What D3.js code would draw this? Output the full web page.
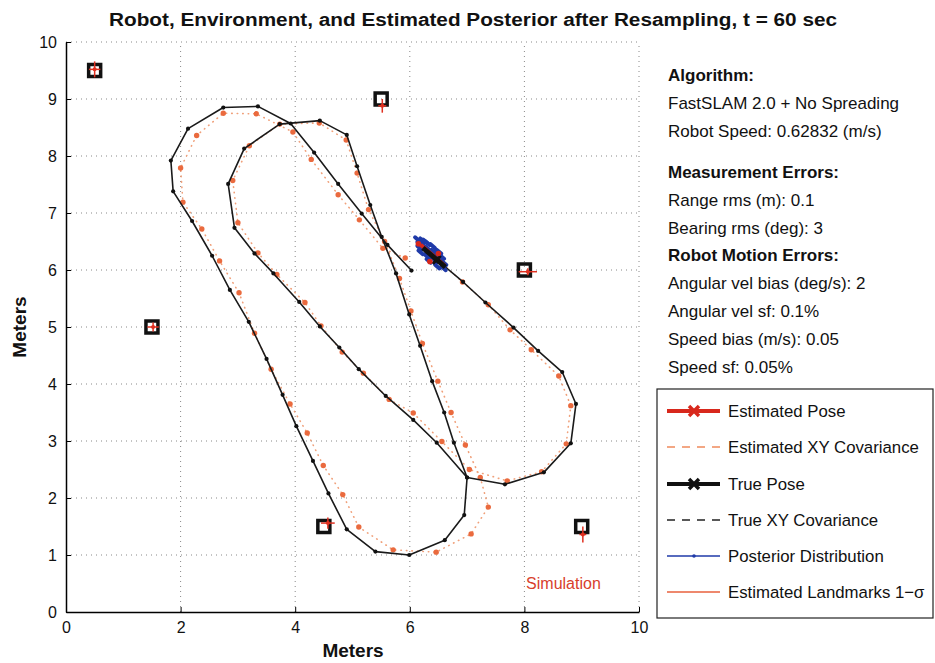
<!DOCTYPE html>
<html>
<head>
<meta charset="utf-8">
<script src="https://cdn.jsdelivr.net/npm/d3@7"></script>
<style>
  body { margin: 0; background: #fff; }
  svg { display: block; font-family: 'Liberation Sans', Arial, sans-serif; }
</style>
</head>
<body>
<script>
// true robot path (m), in driving order
const trueX = [6.03, 5.61, 5.16, 4.75, 4.33, 3.92, 3.35, 2.745, 2.13, 1.83, 1.87, 2.2, 2.55, 2.86, 3.19, 3.5, 3.78, 4.02, 4.31, 4.58, 4.9, 5.4, 5.99, 6.61, 6.95, 7.0,
  6.77, 6.6, 6.39, 6.18, 5.99, 5.76, 5.51, 5.31, 5.08, 4.9, 4.43, 3.73, 3.11, 2.83, 2.94, 3.29, 3.62, 4.07, 4.43, 4.77, 5.11, 5.58, 6.06, 6.47, 7.0,
  7.66, 8.34, 8.81, 8.9, 8.66, 8.24, 7.81, 7.32, 6.93, 6.47];
const trueY = [5.99, 6.44, 6.99, 7.51, 8.06, 8.57, 8.87, 8.85, 8.48, 7.92, 7.38, 6.86, 6.25, 5.65, 5.09, 4.44, 3.81, 3.26, 2.65, 2.08, 1.45, 1.06, 1.0, 1.26, 1.7, 2.36,
  2.97, 3.5, 4.05, 4.67, 5.22, 5.94, 6.58, 7.14, 7.82, 8.37, 8.62, 8.56, 8.13, 7.51, 6.74, 6.29, 5.94, 5.44, 5.01, 4.64, 4.26, 3.79, 3.37, 2.97, 2.36,
  2.24, 2.45, 2.96, 3.65, 4.21, 4.58, 4.99, 5.43, 5.79, 6.18];

// estimated robot path (m)
const estX = [5.92, 5.53, 5.12, 4.75, 4.28, 3.96, 3.32, 2.745, 2.28, 2.0, 2.04, 2.37, 2.68, 3.02, 3.29, 3.58, 3.91, 4.21, 4.49, 4.83, 5.11, 5.71, 6.46, 7.07, 7.37, 7.23,
  6.97, 6.72, 6.49, 6.22, 6.02, 5.82, 5.56, 5.28, 5.08, 4.89, 4.42, 3.73, 3.2, 2.91, 3.0, 3.35, 3.68, 4.17, 4.45, 4.82, 5.19, 5.64, 6.06, 6.56, 7.04,
  7.7, 8.3, 8.73, 8.81, 8.6, 8.12, 7.75, 7.37, 6.92, 6.42];
const estY = [6.21, 6.38, 6.88, 7.32, 7.94, 8.42, 8.74, 8.75, 8.36, 7.79, 7.19, 6.72, 6.16, 5.6, 4.89, 4.26, 3.65, 3.14, 2.57, 2.06, 1.49, 1.09, 1.05, 1.37, 1.84, 2.36,
  2.93, 3.5, 4.05, 4.71, 5.28, 5.85, 6.5, 7.06, 7.7, 8.28, 8.58, 8.56, 8.18, 7.57, 6.83, 6.3, 5.92, 5.43, 5.02, 4.56, 4.19, 3.73, 3.49, 2.99, 2.5,
  2.3, 2.46, 2.95, 3.62, 4.14, 4.6, 4.95, 5.39, 5.79, 6.24];

// landmarks: true and estimated with 1-sigma
const landmarkX = [0.5, 5.5, 8.0, 1.5, 4.5, 9.0];
const landmarkY = [9.5, 9.0, 6.0, 5.0, 1.5, 1.5];
const estLmX = [0.5, 5.52, 8.06, 1.52, 4.57, 9.02];
const estLmY = [9.52, 8.88, 5.97, 5.0, 1.56, 1.36];
const estLmSx = [0.1, 0.07, 0.16, 0.1, 0.12, 0.06];
const estLmSy = [0.14, 0.12, 0.06, 0.08, 0.1, 0.14];

// particle cloud (posterior) around the robot
const particleX = [6.17, 6.22, 6.17, 6.31, 6.19, 6.32, 6.4, 6.3, 6.42, 6.33, 6.51, 6.44, 6.56, 6.48, 6.6, 6.59, 6.24, 6.32, 6.39, 6.5, 6.13, 6.27];
const particleY = [6.46, 6.52, 6.39, 6.47, 6.31, 6.37, 6.42, 6.24, 6.32, 6.16, 6.32, 6.17, 6.23, 6.06, 6.12, 6.03, 6.43, 6.3, 6.27, 6.2, 6.54, 6.5];
const heading = 139; // deg

const truePose = [6.47, 6.18];
const estPose = [6.4, 6.26];
const estPoseDots = [[6.15, 6.46], [6.5, 6.29], [6.35, 6.15]];

const xTicks = [0, 2, 4, 6, 8, 10];
const yTicks = [0, 1, 2, 3, 4, 5, 6, 7, 8, 9, 10];

const title = 'Robot, Environment, and Estimated Posterior after Resampling, t = 60 sec';
const infoLines = [
  ['Algorithm:', true],
  ['FastSLAM 2.0 + No Spreading', false],
  ['Robot Speed: 0.62832 (m/s)', false],
  ['Measurement Errors:', true],
  ['Range rms (m): 0.1', false],
  ['Bearing rms (deg): 3', false],
  ['Robot Motion Errors:', true],
  ['Angular vel bias (deg/s): 2', false],
  ['Angular vel sf: 0.1%', false],
  ['Speed bias (m/s): 0.05', false],
  ['Speed sf: 0.05%', false]
];
const infoY = [75, 103, 131, 172, 200, 228, 255, 283, 311, 339, 367];
const legendLabels = ['Estimated Pose', 'Estimated XY Covariance', 'True Pose', 'True XY Covariance', 'Posterior Distribution', 'Estimated Landmarks 1\u2212\u03c3'];

const red = '#d8281c';
const orange = '#ea6a3e';
const blue = '#1f3aa8';
const width = 935;
const height = 663;

const svg = d3
  .select('body')
  .append('svg')
  .attr('width', width)
  .attr('height', height);

const x = d3.scaleLinear().domain([0, 10]).range([66, 639]);
const y = d3.scaleLinear().domain([0, 10]).range([612, 42]);

// grid
const grid = svg.append('g').attr('stroke', '#888').attr('stroke-dasharray', '1,4').attr('stroke-width', 1);
grid
  .selectAll('.gx')
  .data(xTicks.slice(1))
  .enter()
  .append('line')
  .attr('x1', d => x(d))
  .attr('x2', d => x(d))
  .attr('y1', y(0))
  .attr('y2', y(10));
grid
  .selectAll('.gy')
  .data(yTicks.slice(1))
  .enter()
  .append('line')
  .attr('y1', d => y(d))
  .attr('y2', d => y(d))
  .attr('x1', x(0))
  .attr('x2', x(10));

// axes (matlab style, ticks inward)
const xAxis = d3.axisBottom(x).tickValues(xTicks).tickSize(-5).tickPadding(10).tickSizeOuter(0);
const yAxis = d3.axisLeft(y).tickValues(yTicks).tickSize(-5).tickPadding(9).tickSizeOuter(0);

svg
  .append('g')
  .attr('transform', `translate(0, ${y(0)})`)
  .call(xAxis)
  .call(g => g.selectAll('text').attr('font-size', 16).attr('fill', '#111').attr('font-family', 'Liberation Sans, Arial'))
  .call(g => g.select('.domain').attr('stroke-width', 1.5));

svg
  .append('g')
  .attr('transform', `translate(${x(0)}, 0)`)
  .call(yAxis)
  .call(g => g.selectAll('text').attr('font-size', 16).attr('fill', '#111').attr('font-family', 'Liberation Sans, Arial'))
  .call(g => g.select('.domain').attr('stroke-width', 1.5));

// estimated path: faint dotted line + markers
const line = d3.line().x(d => x(d[0])).y(d => y(d[1]));
const estPts = estX.map((v, i) => [v, estY[i]]);
const truePts = trueX.map((v, i) => [v, trueY[i]]);

svg
  .append('path')
  .attr('d', line(estPts))
  .attr('fill', 'none')
  .attr('stroke', '#f0a07a')
  .attr('stroke-width', 1.6)
  .attr('stroke-linecap', 'round')
  .attr('stroke-dasharray', '0.5,5');

svg
  .selectAll('.est')
  .data(estPts)
  .enter()
  .append('circle')
  .attr('cx', d => x(d[0]))
  .attr('cy', d => y(d[1]))
  .attr('r', 2.7)
  .attr('fill', orange);

// true path
svg
  .append('path')
  .attr('d', line(truePts))
  .attr('fill', 'none')
  .attr('stroke', '#1a1a1a')
  .attr('stroke-width', 1.6)
  .attr('stroke-linejoin', 'round');

svg
  .selectAll('.tru')
  .data(truePts)
  .enter()
  .append('circle')
  .attr('cx', d => x(d[0]))
  .attr('cy', d => y(d[1]))
  .attr('r', 2.1)
  .attr('fill', '#111');

// landmarks
svg
  .selectAll('.lm')
  .data(landmarkX)
  .enter()
  .append('rect')
  .attr('x', d => x(d) - 6)
  .attr('y', (d, i) => y(landmarkY[i]) - 6)
  .attr('width', 12)
  .attr('height', 12)
  .attr('fill', 'none')
  .attr('stroke', '#111')
  .attr('stroke-width', 3.5);

const lmEst = svg.append('g').attr('stroke', '#e03020').attr('stroke-width', 1.5);
estLmX.forEach((v, i) => {
  lmEst
    .append('line')
    .attr('x1', x(v - estLmSx[i]))
    .attr('x2', x(v + estLmSx[i]))
    .attr('y1', y(estLmY[i]))
    .attr('y2', y(estLmY[i]));
  lmEst
    .append('line')
    .attr('x1', x(v))
    .attr('x2', x(v))
    .attr('y1', y(estLmY[i] - estLmSy[i]))
    .attr('y2', y(estLmY[i] + estLmSy[i]));
});
svg
  .selectAll('.lmc')
  .data(estLmX)
  .enter()
  .append('circle')
  .attr('cx', d => x(d))
  .attr('cy', (d, i) => y(estLmY[i]))
  .attr('r', 2)
  .attr('fill', '#e03020');

// posterior particles
const hx = Math.cos((heading * Math.PI) / 180);
const hy = Math.sin((heading * Math.PI) / 180);
const cloud = svg.append('g');
particleX.forEach((v, i) => {
  cloud
    .append('line')
    .attr('x1', x(v - hx * 0.05))
    .attr('y1', y(particleY[i] - hy * 0.05))
    .attr('x2', x(v + hx * 0.05))
    .attr('y2', y(particleY[i] + hy * 0.05))
    .attr('stroke', blue)
    .attr('stroke-width', 4)
    .attr('stroke-linecap', 'round');
});

// estimated pose (red) and true pose (black)
const poseLen = 0.28;
svg
  .append('line')
  .attr('x1', x(estPose[0] - hx * poseLen))
  .attr('y1', y(estPose[1] - hy * poseLen))
  .attr('x2', x(estPose[0] + hx * poseLen))
  .attr('y2', y(estPose[1] + hy * poseLen))
  .attr('stroke', red)
  .attr('stroke-width', 4);

svg
  .append('line')
  .attr('x1', x(truePose[0] - hx * 0.2))
  .attr('y1', y(truePose[1] - hy * 0.2))
  .attr('x2', x(truePose[0] + hx * 0.32))
  .attr('y2', y(truePose[1] + hy * 0.32))
  .attr('stroke', '#111')
  .attr('stroke-width', 5);

svg
  .append('path')
  .attr('d', 'M-4,-4L4,4M-4,4L4,-4')
  .attr('transform', `translate(${x(truePose[0])}, ${y(truePose[1])})`)
  .attr('stroke', '#111')
  .attr('stroke-width', 3);
svg
  .selectAll('.epd')
  .data(estPoseDots)
  .enter()
  .append('circle')
  .attr('cx', d => x(d[0]))
  .attr('cy', d => y(d[1]))
  .attr('r', 2.8)
  .attr('fill', red);

// "Simulation" label
svg
  .append('text')
  .attr('x', x(8.03))
  .attr('y', y(0.4))
  .attr('font-size', 16)
  .attr('fill', '#d8402c')
  .text('Simulation');

// title + axis labels
svg
  .append('text')
  .attr('x', 473)
  .attr('y', 26)
  .attr('text-anchor', 'middle')
  .attr('font-size', 18)
  .attr('font-weight', 'bold')
  .attr('textLength', 728)
  .attr('lengthAdjust', 'spacingAndGlyphs')
  .attr('fill', '#111')
  .text(title);

svg
  .append('text')
  .attr('x', 353)
  .attr('y', 657)
  .attr('text-anchor', 'middle')
  .attr('font-size', 19)
  .attr('font-weight', 'bold')
  .attr('fill', '#111')
  .text('Meters');

svg
  .append('text')
  .attr('transform', 'translate(26, 327) rotate(-90)')
  .attr('text-anchor', 'middle')
  .attr('font-size', 19)
  .attr('font-weight', 'bold')
  .attr('fill', '#111')
  .text('Meters');

// info panel
svg
  .selectAll('.info')
  .data(infoLines)
  .enter()
  .append('text')
  .attr('x', 668)
  .attr('y', (d, i) => infoY[i] + 6)
  .attr('font-size', 17)
  .attr('font-weight', d => (d[1] ? 'bold' : 'normal'))
  .attr('fill', '#111')
  .text(d => d[0]);

// legend
const legend = svg.append('g').attr('transform', 'translate(657, 389)');
legend
  .append('rect')
  .attr('width', 276)
  .attr('height', 229)
  .attr('fill', '#fff')
  .attr('stroke', '#222')
  .attr('stroke-width', 1.2);

const rowY = [22, 58, 95, 131, 167, 203];
const sample = [
  { stroke: red, w: 4, dash: null, mark: 'x' },
  { stroke: '#f08a5c', w: 1.3, dash: '8,7', mark: null },
  { stroke: '#111', w: 4, dash: null, mark: 'x' },
  { stroke: '#222', w: 1.3, dash: '8,7', mark: null },
  { stroke: blue, w: 1.3, dash: null, mark: 'dot' },
  { stroke: '#e8603c', w: 1.3, dash: null, mark: null }
];
legendLabels.forEach((lab, i) => {
  const s = sample[i];
  const row = legend.append('g').attr('transform', `translate(0, ${rowY[i]})`);
  row
    .append('line')
    .attr('x1', 10)
    .attr('x2', 63)
    .attr('stroke', s.stroke)
    .attr('stroke-width', s.w)
    .attr('stroke-dasharray', s.dash);
  if (s.mark === 'x') {
    row
      .append('path')
      .attr('d', 'M-5,-5L5,5M-5,5L5,-5')
      .attr('transform', 'translate(37, 0)')
      .attr('stroke', s.stroke)
      .attr('stroke-width', 3.5);
  } else if (s.mark === 'dot') {
    row.append('circle').attr('cx', 37).attr('r', 1.8).attr('fill', s.stroke);
  }
  row
    .append('text')
    .attr('x', 71)
    .attr('y', 6)
    .attr('font-size', 16.8)
    .attr('fill', '#111')
    .text(lab);
});
</script>
</body>
</html>
